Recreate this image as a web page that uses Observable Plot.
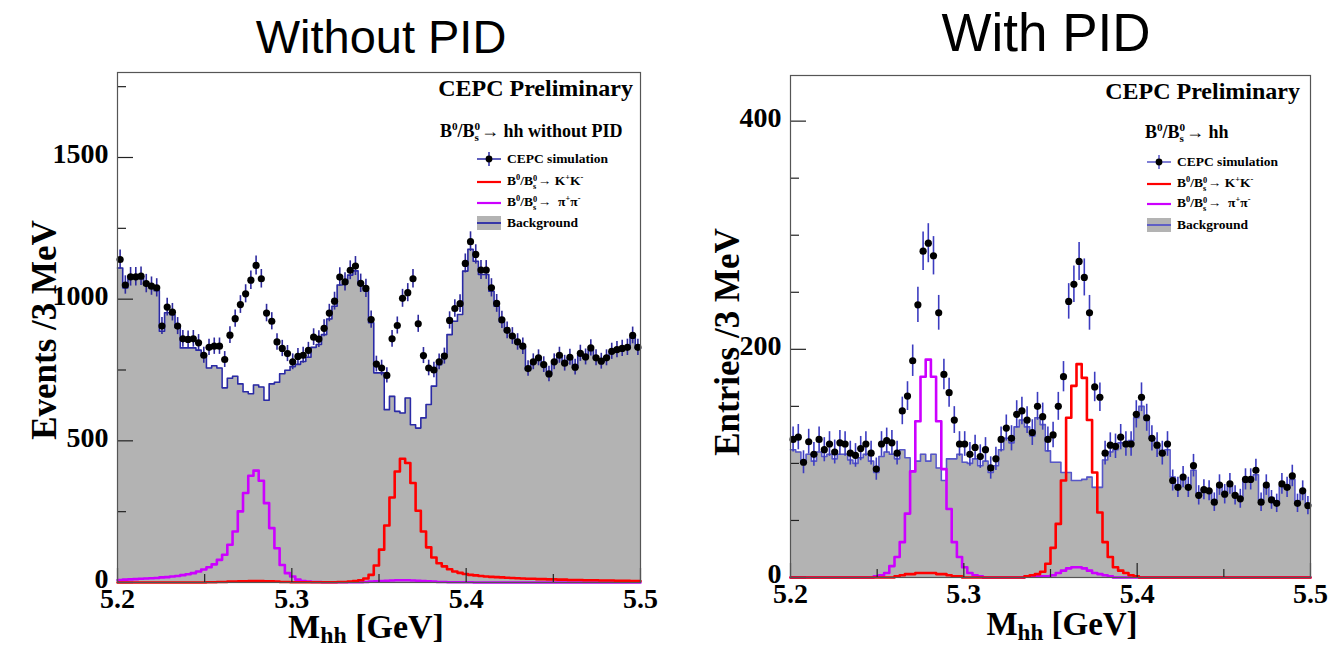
<!DOCTYPE html>
<html>
<head>
<meta charset="utf-8">
<script src="https://cdn.jsdelivr.net/npm/d3@7"></script>
<script src="https://cdn.jsdelivr.net/npm/@observablehq/plot@0.6"></script>
<style>
  html, body { margin: 0; padding: 0; background: #fff; }
  #page { position: relative; width: 1328px; height: 651px; overflow: hidden; background: #fff; }
  .abs { position: absolute; white-space: nowrap; line-height: 1; }
  .serif { font-family: "Liberation Serif", "DejaVu Serif", serif; font-weight: bold; color: #000; }
  .title { font-family: "Liberation Sans", Arial, sans-serif; font-weight: normal; color: #000; }
  .ss { display: inline-flex; flex-direction: column; font-size: 0.62em; line-height: 0.95; vertical-align: 0.55em; margin-right: 0.08em; }
  .sup { font-size: 0.62em; vertical-align: 0.6em; }
  .sub { font-size: 0.7em; vertical-align: -0.2em; line-height: 1; }
  .row { position: absolute; display: flex; align-items: center; height: 18px; white-space: nowrap; }
  .row svg { flex: none; }
  .svgwrap { position: absolute; top: 0; }
</style>
</head>
<body>
<div id="page"></div>
<script>
// ---------------- data ----------------
const binStart = 5.2;
const binWidth = 0.003;
const xMajorTicks = [5.2, 5.3, 5.4, 5.5];
const xMinorTicks = [5.25, 5.35, 5.45];

// Left panel: without PID
const dataWithoutPID = [
  1140,1050,1079,1079,1081,1055,1046,1040,905,972,
  954,905,860,858,860,846,802,830,834,834,
  787,873,931,981,1019,1067,1119,1072,951,922,
  849,826,808,779,798,802,819,866,859,897,
  951,993,1078,1061,1102,1117,1056,1038,928,771,
  757,731,860,907,1003,1023,1072,913,801,757,
  750,779,799,925,967,984,1126,1203,1158,1103,
  1103,1040,985,927,890,870,849,834,755,779,
  793,769,736,779,802,774,795,760,809,796,
  828,793,781,793,816,822,826,830,872,830
];
const bkgWithoutPID = [
  1110,1040,1072,1072,1075,1050,1040,1030,887,952,
  945,900,828,828,828,820,800,757,765,757,
  687,721,728,701,673,666,697,690,643,701,
  707,737,749,762,770,780,795,830,840,875,
  930,975,1050,1055,1085,1100,1050,1030,917,740,
  740,610,657,604,598,651,557,545,581,628,
  693,769,805,875,922,946,1099,1176,1134,1087,
  1087,1028,975,920,885,865,845,830,750,775,
  790,765,735,775,798,770,790,758,805,792,
  822,790,778,790,812,818,822,826,865,826
];
const kkWithoutPID = [
  0,0,0,0,0,0,0,0,0,0,
  0,0,0,0,0,0,0,1,1,2,
  2,3,3,4,4,5,5,5,4,4,
  3,2,2,1,1,1,1,1,1,1,
  1,1,2,2,3,5,8,14,27,60,
  116,201,300,392,437,422,351,253,180,124,
  88,68,57,47,39,34,30,27,25,23,
  21,20,19,18,17,16,15,14,13,13,
  12,12,11,11,10,10,9,9,9,8,
  8,8,7,7,7,6,6,6,5,5
];
const pipiWithoutPID = [
  9,10,11,12,13,14,15,16,18,19,
  21,23,26,29,33,39,46,54,64,80,
  98,133,180,251,316,377,395,359,280,192,
  121,62,33,21,10,5,3,2,2,1,
  1,1,1,1,1,1,1,2,3,4,
  5,6,7,8,8,8,7,6,5,4,
  3,2,2,1,1,1,1,1,0,0,
  0,0,0,0,0,0,0,0,0,0,
  0,0,0,0,0,0,0,0,0,0,
  0,0,0,0,0,0,0,0,0,0
];
const yMajorWithoutPID = [0, 500, 1000, 1500];
const yMinorWithoutPID = [250, 750, 1250, 1750];

// Right panel: with PID
const dataWithPID = [
  121,123,101,119,108,121,112,117,110,118,
  117,109,107,113,117,109,95,117,120,118,
  109,146,159,190,239,286,293,282,232,178,
  162,138,117,117,108,114,106,112,96,104,
  121,131,122,143,146,138,127,150,141,121,
  125,150,176,242,257,277,263,232,167,158,
  109,116,115,123,117,117,143,158,140,122,
  116,109,117,85,79,88,79,98,72,77,
  76,66,81,73,82,72,69,86,86,94,
  66,81,68,65,82,79,89,65,76,63
];
const bkgWithPID = [
  112,110,100,108,102,110,106,108,104,108,
  108,103,100,105,108,102,92,106,110,108,
  104,112,105,93,102,108,102,108,96,85,
  104,104,108,101,100,104,98,102,92,98,
  112,122,118,132,138,132,124,140,134,111,
  101,101,92,92,85,85,86,88,79,79,
  103,110,112,118,115,120,140,150,138,122,
  115,108,112,88,80,86,80,94,74,77,
  76,68,80,74,80,73,70,84,85,90,
  68,80,70,66,80,78,86,67,75,64
];
const kkWithPID = [
  0,0,0,0,0,0,0,0,0,0,
  0,0,0,0,0,0,0,0,0,0,
  1,2,3,3,4,4,4,4,3,3,
  2,1,1,0,0,0,0,0,0,0,
  0,0,0,0,0,1,2,3,5,12,
  26,47,85,140,168,187,175,138,92,57,
  31,18,9,6,4,2,1,0,0,0,
  0,0,0,0,0,0,0,0,0,0,
  0,0,0,0,0,0,0,0,0,0,
  0,0,0,0,0,0,0,0,0,0
];
const pipiWithPID = [
  0,0,0,0,0,0,0,0,0,0,
  0,0,0,0,0,0,1,2,4,10,
  18,31,56,93,137,176,191,176,137,95,
  60,31,18,9,4,2,1,0,0,0,
  0,0,0,0,0,1,1,1,1,1,
  2,4,6,8,9,9,8,6,4,3,
  2,1,0,0,0,0,0,0,0,0,
  0,0,0,0,0,0,0,0,0,0,
  0,0,0,0,0,0,0,0,0,0,
  0,0,0,0,0,0,0,0,0,0
];
const yMajorWithPID = [0, 200, 400];
const yMinorWithPID = [50, 100, 150, 250, 300, 350];

// ---------------- drawing ----------------
function stepRows(vals) {
  const rows = vals.map((v, i) => ({x: binStart + i * binWidth, y: v}));
  rows.push({x: binStart + vals.length * binWidth, y: vals[vals.length - 1]});
  return rows;
}

function panel(cfg) {
  const {data, bkg, kk, pipi, yMax, yMajor, yMinor, width, height,
         marginLeft, marginRight, marginTop, marginBottom, bkgStroke, errStroke} = cfg;
  const plotW = width - marginLeft - marginRight;
  const plotH = height - marginTop - marginBottom;
  const pts = data.map((v, i) => ({x: binStart + (i + 0.5) * binWidth, y: v, e: Math.sqrt(v)}));
  return Plot.plot({
    width, height, marginLeft, marginRight, marginTop, marginBottom,
    x: {domain: [5.2, 5.5]},
    y: {domain: [0, yMax]},
    style: {
      fontFamily: "'Liberation Serif', 'DejaVu Serif', serif",
      fontSize: "28px",
      fontWeight: "bold",
      color: "#000",
      background: "transparent",
      overflow: "visible"
    },
    marks: [
      Plot.areaY(stepRows(bkg), {x: "x", y: "y", curve: "step-after", fill: "#b3b3b3"}),
      Plot.lineY(stepRows(bkg), {x: "x", y: "y", curve: "step-after", stroke: bkgStroke, strokeWidth: 1.6}),
      Plot.lineY(stepRows(pipi), {x: "x", y: "y", curve: "step-after", stroke: "#cc00ff", strokeWidth: 2.6}),
      Plot.lineY(stepRows(kk), {x: "x", y: "y", curve: "step-after", stroke: "#ff0000", strokeWidth: 2.6}),
      Plot.ruleX(pts, {x: "x", y1: d => d.y - d.e, y2: d => d.y + d.e, stroke: errStroke, strokeWidth: 1.6}),
      Plot.dot(pts, {x: "x", y: "y", r: 3.6, fill: "#000", stroke: "none"}),
      Plot.tickX(xMajorTicks, {x: d => d, insetTop: plotH - 14, stroke: "#222", strokeWidth: 1.2}),
      Plot.tickX(xMinorTicks, {x: d => d, insetTop: plotH - 8, stroke: "#222", strokeWidth: 1.2}),
      Plot.tickY(yMajor, {y: d => d, insetRight: plotW - 16, stroke: "#222", strokeWidth: 1.2}),
      Plot.tickY(yMinor, {y: d => d, insetRight: plotW - 9, stroke: "#222", strokeWidth: 1.2}),
      Plot.frame({stroke: "#555", strokeWidth: 1.2}),
      Plot.axisX({ticks: xMajorTicks, tickSize: 0, tickPadding: 6, tickFormat: d => d.toFixed(1), label: null}),
      Plot.axisY({ticks: yMajor, tickSize: 0, tickPadding: 9, dy: -3, tickFormat: d => String(d), label: null})
    ]
  });
}

const page = document.getElementById("page");

function addSvg(node, left) {
  const w = document.createElement("div");
  w.className = "svgwrap";
  w.style.left = left + "px";
  w.appendChild(node);
  page.appendChild(w);
}

addSvg(panel({
  data: dataWithoutPID, bkg: bkgWithoutPID, kk: kkWithoutPID, pipi: pipiWithoutPID,
  yMax: 1800, yMajor: yMajorWithoutPID, yMinor: yMinorWithoutPID,
  width: 664, height: 651, marginLeft: 117, marginRight: 24, marginTop: 72, marginBottom: 69,
  bkgStroke: "#2a2aa6", errStroke: "#2e2a9e"
}), 0);

addSvg(panel({
  data: dataWithPID, bkg: bkgWithPID, kk: kkWithPID, pipi: pipiWithPID,
  yMax: 440, yMajor: yMajorWithPID, yMinor: yMinorWithPID,
  width: 664, height: 651, marginLeft: 126, marginRight: 18, marginTop: 75, marginBottom: 74,
  bkgStroke: "#5656c8", errStroke: "#3c3cc0"
}), 664);

// ---------------- text overlays ----------------
function addText(html, cls, left, baseline, fs, anchor, extra) {
  const d = document.createElement("div");
  d.className = "abs " + cls;
  d.style.fontSize = fs + "px";
  d.style.top = (baseline - 0.84 * fs) + "px";
  d.innerHTML = html;
  if (anchor === "middle") { d.style.left = left + "px"; d.style.transform = "translateX(-50%)"; }
  else if (anchor === "end") { d.style.right = (1328 - left) + "px"; }
  else { d.style.left = left + "px"; }
  if (extra) Object.assign(d.style, extra);
  page.appendChild(d);
  return d;
}

const B0Bs = 'B<span class="sup">0</span>/B<span class="ss"><span>0</span><span>s</span></span>';

// main titles
addText("Without PID", "title", 381, 52, 47, "middle");
addText("With PID", "title", 1046, 51, 53, "middle");

// axis titles
addText('M<span class="sub">hh</span> [GeV]', "serif", 366, 639, 34, "middle");
addText('M<span class="sub">hh</span> [GeV]', "serif", 1062, 636, 33, "middle");

function addYTitle(text, cx, cy, fs) {
  const d = document.createElement("div");
  d.className = "abs serif";
  d.style.fontSize = fs + "px";
  d.style.left = cx + "px";
  d.style.top = cy + "px";
  d.style.transform = "translate(-50%, -50%) rotate(-90deg)";
  d.textContent = text;
  page.appendChild(d);
}
addYTitle("Events /3 MeV", 44, 330, 35);
addYTitle("Entries /3 MeV", 727, 342, 35);

// CEPC labels
addText("CEPC Preliminary", "serif", 633, 96, 24, "end");
addText("CEPC Preliminary", "serif", 1300, 99, 24, "end");
addText(B0Bs + "&rarr; hh without PID", "serif", 440, 136, 18, "start");
addText(B0Bs + "&rarr; hh", "serif", 1145, 137, 18, "start");

// legends
function sym(kind, color) {
  const w = 24, h = 16;
  let s = `<svg width="${w}" height="${h}" viewBox="0 0 ${w} ${h}">`;
  if (kind === "data") {
    s += `<line x1="0" y1="8" x2="${w}" y2="8" stroke="${color}" stroke-width="1.5"/>`;
    s += `<line x1="12" y1="1" x2="12" y2="15" stroke="${color}" stroke-width="1.5"/>`;
    s += `<circle cx="12" cy="8" r="3.4" fill="#000"/>`;
  } else if (kind === "line") {
    s += `<line x1="0" y1="8" x2="${w}" y2="8" stroke="${color}" stroke-width="2.2"/>`;
  } else {
    s += `<rect x="0" y="1" width="${w}" height="14" fill="#b3b3b3"/>`;
    s += `<line x1="0" y1="8" x2="${w}" y2="8" stroke="${color}" stroke-width="1.8"/>`;
  }
  return s + "</svg>";
}
function legend(left, ys, navy) {
  const items = [
    [sym("data", navy), "CEPC simulation"],
    [sym("line", "#ff0000"), B0Bs + "&rarr; K<span class=\"sup\">+</span>K<span class=\"sup\">-</span>"],
    [sym("line", "#cc00ff"), B0Bs + "&rarr;&nbsp; &pi;<span class=\"sup\">+</span>&pi;<span class=\"sup\">-</span>"],
    [sym("box", navy), "Background"]
  ];
  items.forEach(([s, t], i) => {
    const r = document.createElement("div");
    r.className = "row serif";
    r.style.left = left + "px";
    r.style.top = (ys[i] - 9) + "px";
    r.style.fontSize = "13.5px";
    r.innerHTML = s + `<span style="margin-left:6px">${t}</span>`;
    page.appendChild(r);
  });
}
legend(477, [159, 182, 203, 223], "#2a2aa6");
legend(1147, [162, 184, 204, 225], "#5656c8");
</script>
</body>
</html>
